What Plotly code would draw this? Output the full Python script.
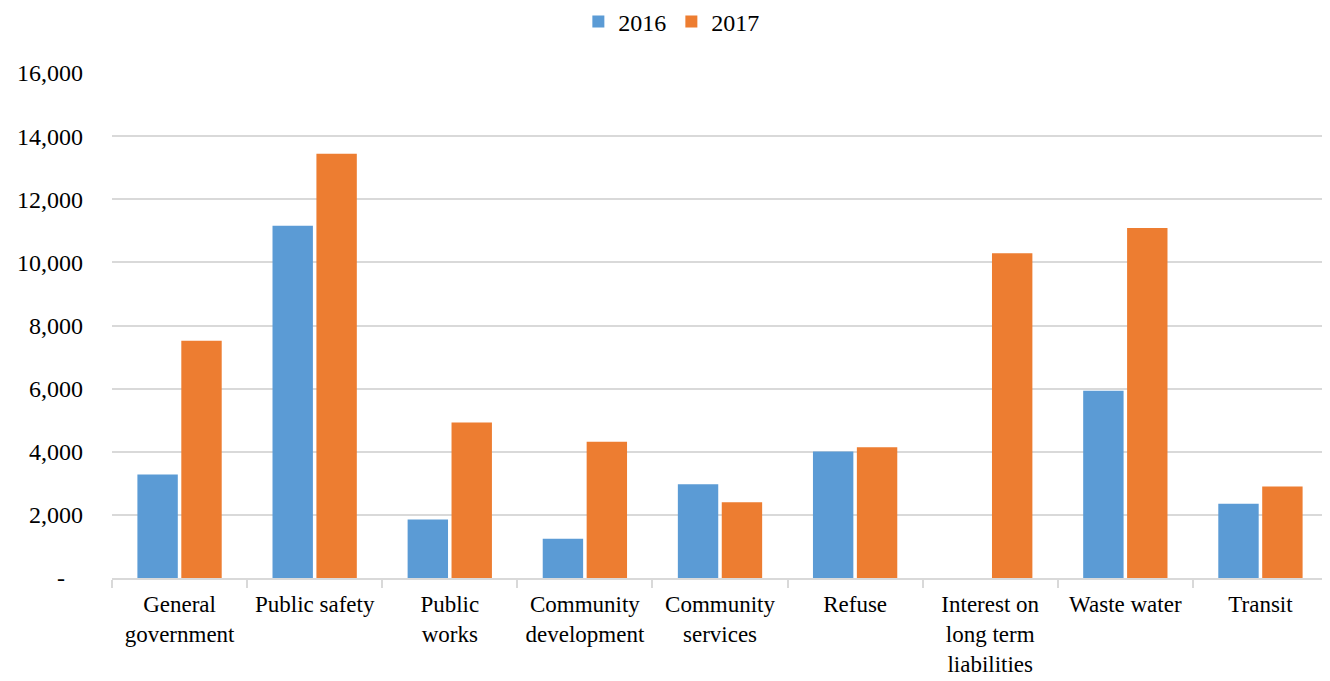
import plotly.graph_objects as go

categories = ["General<br>government", "Public safety", "Public<br>works",
              "Community<br>development", "Community<br>services", "Refuse",
              "Interest on<br>long term<br>liabilities", "Waste water", "Transit"]
values_2016 = [3280, 11160, 1850, 1240, 2970, 4010, 0, 5930, 2350]
values_2017 = [7520, 13440, 4930, 4320, 2400, 4140, 10290, 11090, 2900]
tick_vals = [0, 2000, 4000, 6000, 8000, 10000, 12000, 14000, 16000]
tick_text = ["-\u00a0\u00a0\u00a0", "2,000", "4,000", "6,000", "8,000",
             "10,000", "12,000", "14,000", "16,000"]

FONT = "Liberation Serif, Times New Roman, serif"

fig = go.Figure()
fig.add_trace(go.Bar(name="2016", x=categories, y=values_2016,
                     marker=dict(color="#5B9BD5", line=dict(width=0))))
fig.add_trace(go.Bar(name="2017", x=categories, y=values_2017,
                     marker=dict(color="#ED7D31", line=dict(width=0))))

fig.update_layout(
    width=1322, height=673,
    margin=dict(l=104, r=2, t=65, b=103, autoexpand=False),
    paper_bgcolor="white", plot_bgcolor="white",
    font=dict(family=FONT, size=24, color="#000000"),
    barmode="group", bargap=0.35, bargroupgap=0.08,
    legend=dict(orientation="h", x=0.46, xanchor="center", y=1.101, yanchor="middle",
                font=dict(size=24), itemwidth=30, traceorder="normal"),
    showlegend=True,
)
fig.update_xaxes(
    showline=True, linecolor="#d9d9d9", linewidth=1.5,
    ticks="outside", tickson="boundaries", ticklen=8, tickcolor="#d9d9d9", tickwidth=1.5,
    tickfont=dict(size=23, family=FONT), showgrid=False, ticklabelstandoff=5,
    automargin=False,
)
fig.update_yaxes(
    range=[0, 16000], tickvals=tick_vals, ticktext=tick_text,
    showgrid=True, gridcolor="#d9d9d9", gridwidth=1.5,
    zeroline=False, showline=False, ticks="", ticklabelstandoff=28,
    tickfont=dict(size=24, family=FONT), automargin=False,
)

fig.write_html("out.html")
